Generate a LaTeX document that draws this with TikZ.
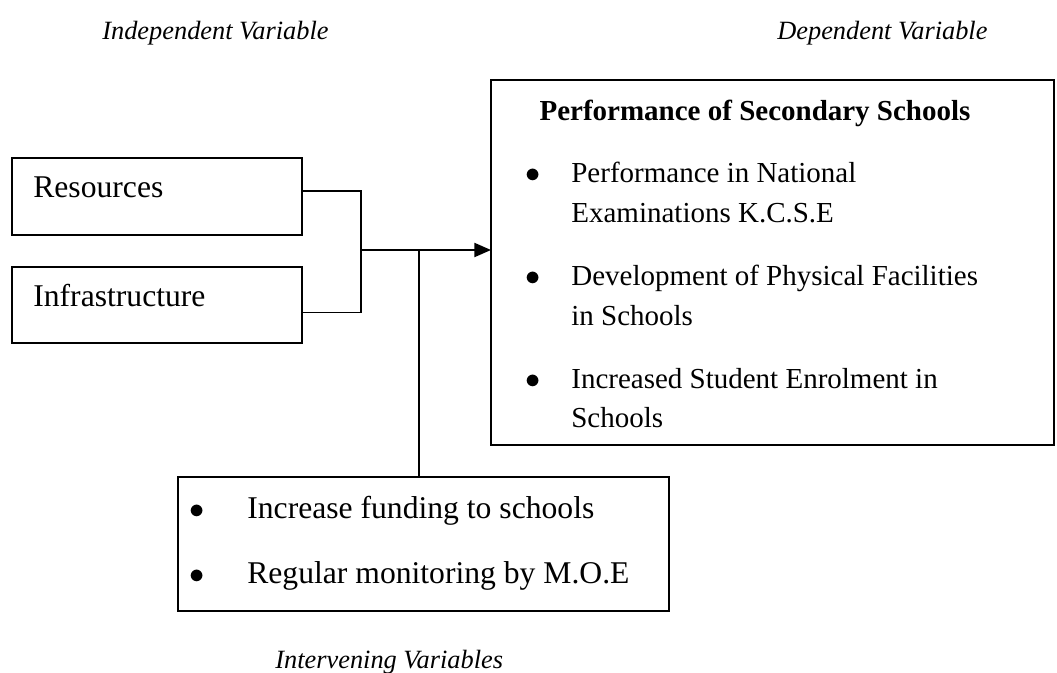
\documentclass[tikz,border=0pt]{standalone}
\usepackage{fontspec}
\setmainfont{Liberation Serif}
\usepackage{xcolor}
\usepackage{tikz}
\usetikzlibrary{calc,arrows.meta}
\definecolor{ink}{HTML}{000000}
\definecolor{paper}{HTML}{FFFFFF}
\tikzset{
  box/.style={draw=ink, line width=0.9pt, minimum height=1.5cm, inner sep=0pt, outer sep=0pt},
  link/.style={draw=ink, line width=0.9pt},
  arr/.style={draw=ink, line width=1.2pt, -{Triangle[length=9.5pt,width=8pt]}},
  txt/.style={text=ink, font=\fontsize{16.5}{20}\selectfont, inner sep=0pt, anchor=base west},
  txtl/.style={txt, font=\fontsize{18}{22}\selectfont},
  ttl/.style={text=ink, font=\fontsize{16.5}{20}\selectfont\bfseries, inner sep=0pt, anchor=base},
  varlab/.style={text=ink, font=\fontsize{15}{18}\selectfont\itshape, inner sep=0pt, anchor=base west},
}

\begin{document}
\begin{tikzpicture}
  \useasboundingbox[fill=paper] (0,0) rectangle (21.14,-13.46);
  % boxes
  \node[box, minimum width=5.8cm, minimum height=1.54cm] (res) at (3.14,-3.93) {};
  \node[box, minimum width=5.8cm, minimum height=1.52cm] (infra) at (3.14,-6.10) {};
  \node[box, minimum width=11.26cm, minimum height=7.3cm] (dep) at (15.45,-5.25) {};
  \node[box, minimum width=9.82cm, minimum height=2.68cm] (intv) at (8.47,-10.88) {};
  \node[txtl] (restx) at (0.66,-3.96) {Resources};
  \node[txtl] (infratx) at (0.66,-6.14) {Infrastructure};
  % headings
  \node[varlab] (indep) at (2.04,-0.80) {Independent Variable};
  \node[varlab] (depv) at (15.54,-0.80) {Dependent Variable};
  \node[varlab] (intvar) at (5.50,-13.36) {Intervening Variables};
  % dependent variable
  \node[ttl] (title) at (15.10,-2.42) {Performance of Secondary Schools};
  \node[txt] (b1) at (10.50,-3.66) {$\bullet$};
  \node[txt] (d1a) at (11.42,-3.66) {Performance in National};
  \node[txt] (d1b) at (11.42,-4.46) {Examinations K.C.S.E};
  \node[txt] (b2) at (10.50,-5.70) {$\bullet$};
  \node[txt] (d2a) at (11.42,-5.70) {Development of Physical Facilities};
  \node[txt] (d2b) at (11.42,-6.50) {in Schools};
  \node[txt] (b3) at (10.50,-7.76) {$\bullet$};
  \node[txt] (d3a) at (11.42,-7.76) {Increased Student Enrolment in};
  \node[txt] (d3b) at (11.42,-8.54) {Schools};
  % intervening variables
  \node[txtl] (b4) at (3.78,-10.36) {$\bullet$};
  \node[txtl] (i1) at (4.94,-10.36) {Increase funding to schools};
  \node[txtl] (b5) at (3.78,-11.66) {$\bullet$};
  \node[txtl] (i2) at (4.94,-11.66) {Regular monitoring by M.O.E};
  % connectors
  \coordinate (J) at (7.22,-5.00);
  \coordinate (T) at (8.38,-5.00);
  \draw[link] ($(res.north east)!0.43!(res.south east)$) -| (J);
  \draw[link] ($(infra.north east)!0.6!(infra.south east)$) -| (J);
  \draw[arr] (J) -- (J -| dep.west);
  \draw[link] (T) -- (T |- intv.north);
\end{tikzpicture}
\end{document}
